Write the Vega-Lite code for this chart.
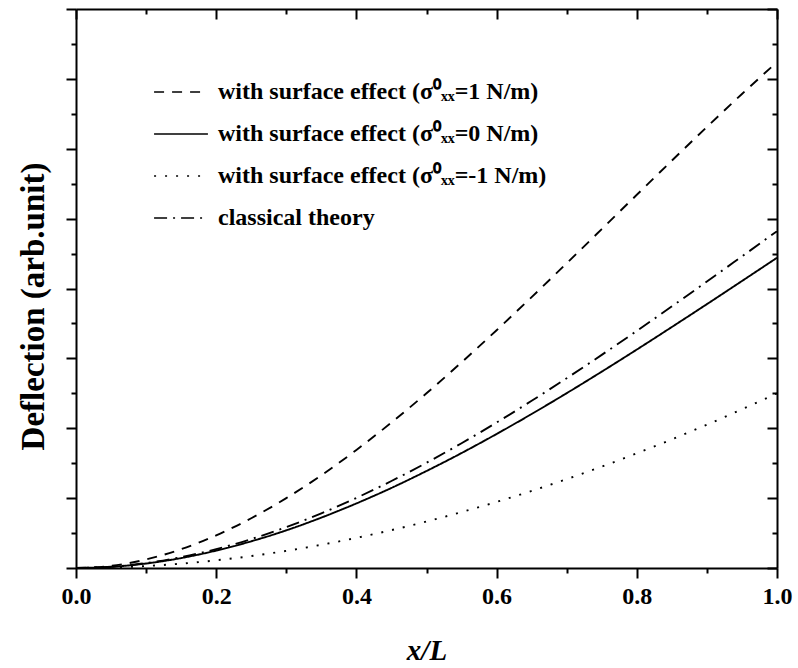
{
  "$schema": "https://vega.github.io/schema/vega-lite/v6.json",
  "width": 701,
  "height": 559,
  "autosize": {"type": "none"},
  "padding": {"left": 76, "top": 9, "right": 21, "bottom": 100},
  "background": "white",
  "config": {
    "view": {"stroke": null},
    "font": "Liberation Serif",
    "axis": {
      "grid": false,
      "domainColor": "black",
      "domainWidth": 2,
      "tickColor": "black",
      "tickWidth": 2,
      "labelFont": "Liberation Serif",
      "labelFontWeight": "bold",
      "labelFontSize": 24,
      "labelColor": "black",
      "titleFont": "Liberation Serif",
      "titleFontWeight": "bold",
      "titleColor": "black"
    }
  },
  "data": {
    "values": [
      {"x": 0, "y": 0, "s": "p"}, {"x": 0.05, "y": 0.031, "s": "p"}, {"x": 0.1, "y": 0.122, "s": "p"}, {"x": 0.15, "y": 0.269, "s": "p"}, {"x": 0.2, "y": 0.467, "s": "p"}, {"x": 0.25, "y": 0.712, "s": "p"}, {"x": 0.3, "y": 1.0, "s": "p"}, {"x": 0.35, "y": 1.327, "s": "p"}, {"x": 0.4, "y": 1.689, "s": "p"}, {"x": 0.45, "y": 2.082, "s": "p"}, {"x": 0.5, "y": 2.501, "s": "p"}, {"x": 0.55, "y": 2.943, "s": "p"}, {"x": 0.6, "y": 3.403, "s": "p"}, {"x": 0.65, "y": 3.877, "s": "p"}, {"x": 0.7, "y": 4.361, "s": "p"}, {"x": 0.75, "y": 4.85, "s": "p"}, {"x": 0.8, "y": 5.341, "s": "p"}, {"x": 0.85, "y": 5.83, "s": "p"}, {"x": 0.9, "y": 6.312, "s": "p"}, {"x": 0.95, "y": 6.784, "s": "p"}, {"x": 1.0, "y": 7.24, "s": "p"},
      {"x": 0, "y": 0, "s": "z"}, {"x": 0.05, "y": 0.016, "s": "z"}, {"x": 0.1, "y": 0.064, "s": "z"}, {"x": 0.15, "y": 0.142, "s": "z"}, {"x": 0.2, "y": 0.249, "s": "z"}, {"x": 0.25, "y": 0.382, "s": "z"}, {"x": 0.3, "y": 0.539, "s": "z"}, {"x": 0.35, "y": 0.721, "s": "z"}, {"x": 0.4, "y": 0.924, "s": "z"}, {"x": 0.45, "y": 1.146, "s": "z"}, {"x": 0.5, "y": 1.388, "s": "z"}, {"x": 0.55, "y": 1.645, "s": "z"}, {"x": 0.6, "y": 1.918, "s": "z"}, {"x": 0.65, "y": 2.204, "s": "z"}, {"x": 0.7, "y": 2.502, "s": "z"}, {"x": 0.75, "y": 2.81, "s": "z"}, {"x": 0.8, "y": 3.126, "s": "z"}, {"x": 0.85, "y": 3.449, "s": "z"}, {"x": 0.9, "y": 3.776, "s": "z"}, {"x": 0.95, "y": 4.107, "s": "z"}, {"x": 1.0, "y": 4.44, "s": "z"},
      {"x": 0, "y": 0, "s": "m"}, {"x": 0.05, "y": 0.007, "s": "m"}, {"x": 0.1, "y": 0.028, "s": "m"}, {"x": 0.15, "y": 0.062, "s": "m"}, {"x": 0.2, "y": 0.11, "s": "m"}, {"x": 0.25, "y": 0.171, "s": "m"}, {"x": 0.3, "y": 0.245, "s": "m"}, {"x": 0.35, "y": 0.332, "s": "m"}, {"x": 0.4, "y": 0.431, "s": "m"}, {"x": 0.45, "y": 0.542, "s": "m"}, {"x": 0.5, "y": 0.665, "s": "m"}, {"x": 0.55, "y": 0.8, "s": "m"}, {"x": 0.6, "y": 0.946, "s": "m"}, {"x": 0.65, "y": 1.103, "s": "m"}, {"x": 0.7, "y": 1.272, "s": "m"}, {"x": 0.75, "y": 1.451, "s": "m"}, {"x": 0.8, "y": 1.641, "s": "m"}, {"x": 0.85, "y": 1.841, "s": "m"}, {"x": 0.9, "y": 2.051, "s": "m"}, {"x": 0.95, "y": 2.271, "s": "m"}, {"x": 1.0, "y": 2.5, "s": "m"},
      {"x": 0, "y": 0, "s": "c"}, {"x": 0.05, "y": 0.018, "s": "c"}, {"x": 0.1, "y": 0.07, "s": "c"}, {"x": 0.15, "y": 0.155, "s": "c"}, {"x": 0.2, "y": 0.27, "s": "c"}, {"x": 0.25, "y": 0.414, "s": "c"}, {"x": 0.3, "y": 0.586, "s": "c"}, {"x": 0.35, "y": 0.782, "s": "c"}, {"x": 0.4, "y": 1.003, "s": "c"}, {"x": 0.45, "y": 1.245, "s": "c"}, {"x": 0.5, "y": 1.506, "s": "c"}, {"x": 0.55, "y": 1.786, "s": "c"}, {"x": 0.6, "y": 2.082, "s": "c"}, {"x": 0.65, "y": 2.393, "s": "c"}, {"x": 0.7, "y": 2.716, "s": "c"}, {"x": 0.75, "y": 3.05, "s": "c"}, {"x": 0.8, "y": 3.393, "s": "c"}, {"x": 0.85, "y": 3.744, "s": "c"}, {"x": 0.9, "y": 4.099, "s": "c"}, {"x": 0.95, "y": 4.459, "s": "c"}, {"x": 1.0, "y": 4.82, "s": "c"}
    ]
  },
  "resolve": {"axis": {"x": "independent", "y": "independent"}},
  "layer": [
    {
      "mark": {"type": "line", "color": "black", "strokeWidth": 1.9, "interpolate": "monotone"},
      "encoding": {
        "x": {
          "field": "x", "type": "quantitative",
          "scale": {"domain": [0, 1], "nice": false, "zero": false},
          "axis": {
            "orient": "bottom",
            "values": [0, 0.1, 0.2, 0.3, 0.4, 0.5, 0.6, 0.7, 0.8, 0.9, 1.0],
            "format": ".1f",
            "labelExpr": "round(datum.value*10)%2==0 ? datum.label : ''",
            "labelFont": "Liberation Serif",
            "labelFontWeight": "bold",
            "labelFontSize": 24,
            "labelFlush": false,
            "labelOverlap": false,
            "labelPadding": 6,
            "tickSize": {"condition": {"test": "round(datum.value*10)%2==0", "value": 10}, "value": 5},
            "title": "x/L",
            "titleFont": "Liberation Serif",
            "titleFontSize": 29,
            "titleFontStyle": "italic",
            "titleY": 91,
            "titleBaseline": "alphabetic"
          }
        },
        "y": {
          "field": "y", "type": "quantitative",
          "scale": {"domain": [0, 8], "nice": false, "zero": false},
          "axis": {
            "orient": "left",
            "values": [0, 0.5, 1, 1.5, 2, 2.5, 3, 3.5, 4, 4.5, 5, 5.5, 6, 6.5, 7, 7.5, 8],
            "labels": false,
            "tickSize": {"condition": {"test": "datum.value%1==0", "value": 10}, "value": 5},
            "title": "Deflection (arb.unit)",
            "titleFont": "Liberation Serif",
            "titleFontSize": 33,
            "titleX": -43,
            "titleY": 297,
            "titleBaseline": "middle"
          }
        },
        "detail": {"field": "s"},
        "strokeDash": {
          "field": "s", "type": "nominal",
          "scale": {"domain": ["p", "z", "m", "c"], "range": [[10, 8], [1, 0], [2, 9], [13, 6, 2, 6]]},
          "legend": {
            "orient": "none",
            "legendX": 77,
            "legendY": 62,
            "title": null,
            "padding": 0,
            "symbolType": "stroke",
            "symbolSize": 2900,
            "symbolStrokeWidth": 1.7,
            "symbolStrokeColor": "black",
            "labelFont": "Liberation Serif",
            "labelFontWeight": "bold",
            "labelFontSize": 24,
            "labelColor": "black",
            "labelOffset": 9,
            "labelLimit": 0,
            "clipHeight": 42,
            "rowPadding": 0,
            "labelExpr": "datum.label=='p' ? 'with surface effect (σ⁰ₓₓ=1 N/m)' : datum.label=='z' ? 'with surface effect (σ⁰ₓₓ=0 N/m)' : datum.label=='m' ? 'with surface effect (σ⁰ₓₓ=-1 N/m)' : 'classical theory'"
          }
        }
      }
    },
    {
      "mark": {"type": "line", "strokeOpacity": 0},
      "encoding": {
        "x": {
          "field": "x", "type": "quantitative",
          "axis": {
            "orient": "top",
            "values": [0, 0.1, 0.2, 0.3, 0.4, 0.5, 0.6, 0.7, 0.8, 0.9, 1.0],
            "labels": false,
            "tickSize": {"condition": {"test": "round(datum.value*10)%2==0", "value": -10}, "value": -5},
            "title": null
          }
        },
        "y": {
          "field": "y", "type": "quantitative",
          "axis": {
            "orient": "right",
            "values": [0, 0.5, 1, 1.5, 2, 2.5, 3, 3.5, 4, 4.5, 5, 5.5, 6, 6.5, 7, 7.5, 8],
            "labels": false,
            "tickSize": {"condition": {"test": "datum.value%1==0", "value": -10}, "value": -5},
            "title": null
          }
        },
        "detail": {"field": "s"}
      }
    }
  ]
}
